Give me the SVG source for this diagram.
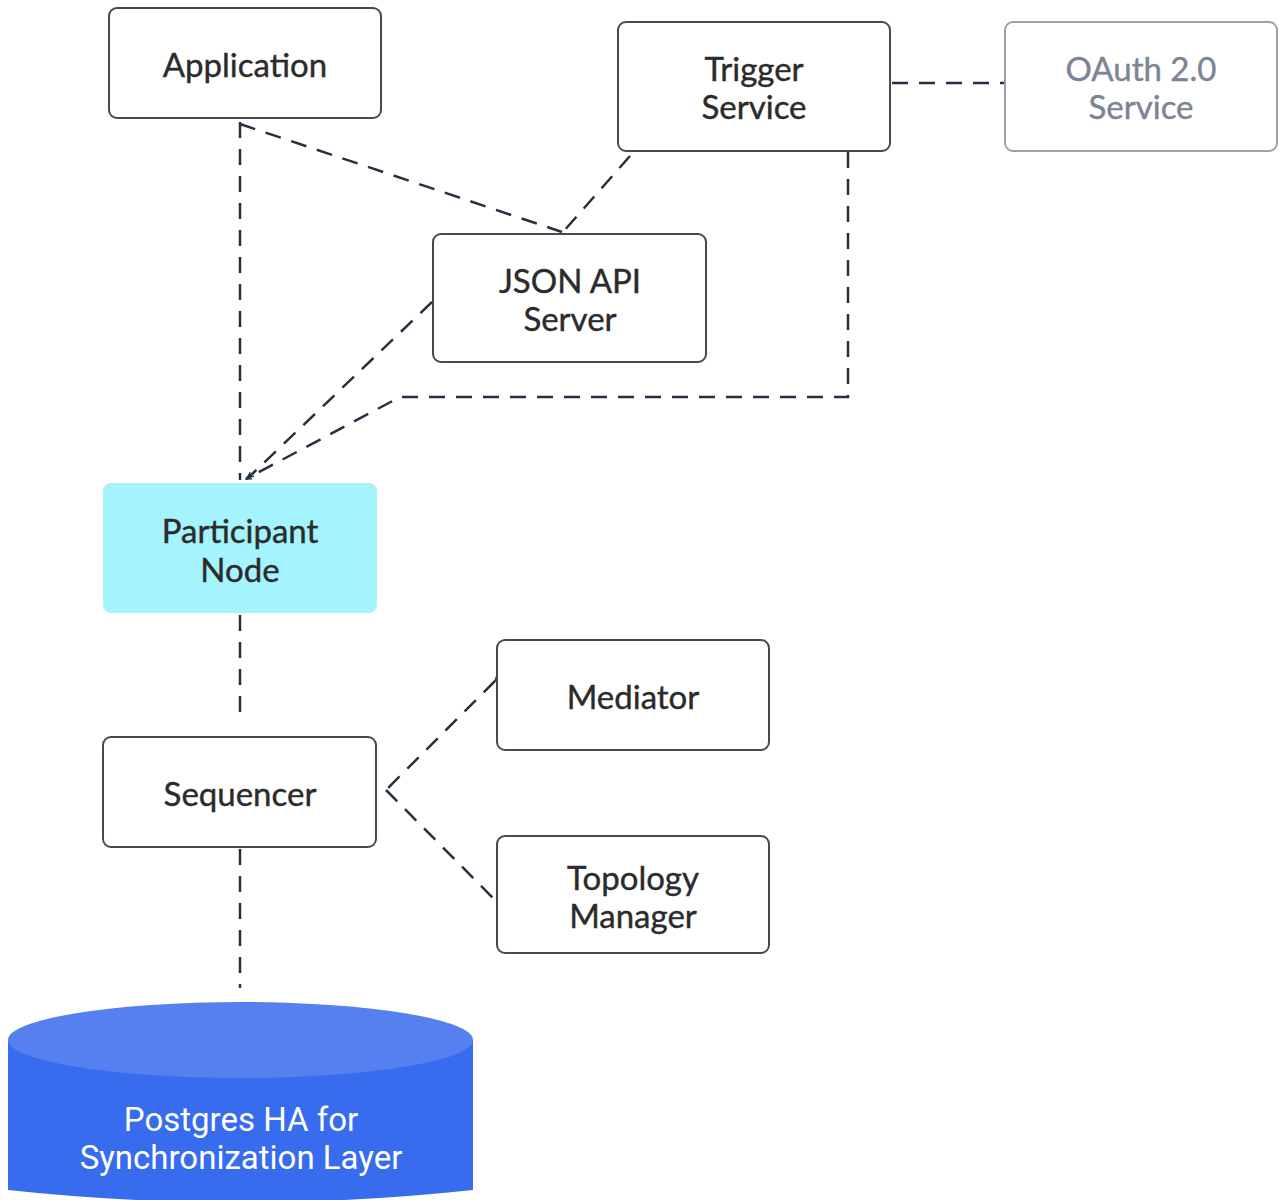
<svg xmlns="http://www.w3.org/2000/svg" width="1279" height="1200" viewBox="0 0 1279 1200">
<defs>
<style>
.box{fill:#fff;stroke:#4a4a4a;stroke-width:2}
.t{font-family:Lato,"Liberation Sans",sans-serif;font-size:33px;fill:#2b2b2b;text-anchor:middle;stroke:#2b2b2b;stroke-width:0.4}
.g{fill:#7d8494;stroke:#7d8494}
.c{fill:none;stroke:#253041;stroke-width:2.5;stroke-dasharray:16 11}
.db{font-family:Roboto,"Liberation Sans",sans-serif;font-size:33px;fill:#fff;text-anchor:middle}
</style>
<marker id="ch" viewBox="0 0 10 10" refX="9" refY="5" markerWidth="7" markerHeight="7" markerUnits="userSpaceOnUse" orient="auto">
<path d="M1,1 L9,5 L1,9" fill="none" stroke="#253041" stroke-width="2"/>
</marker>
</defs>
<rect width="1279" height="1200" fill="#fff"/>
<g id="connectors">
<path class="c" d="M240,122 V480"/>
<path class="c" d="M240,124 L562,232"/>
<path class="c" d="M630,156 L563,232"/>
<path class="c" d="M432,302 L248,478" marker-end="url(#ch)"/>
<path class="c" d="M848,152 V397 H400 L246,479" marker-end="url(#ch)"/>
<path class="c" d="M892,83 H1004"/>
<path class="c" d="M240,615 V722"/>
<path class="c" d="M495,681 L386,790" marker-start="url(#ch)"/>
<path class="c" d="M386,790 L495,900"/>
<path class="c" d="M240,849 V988"/>
</g>
<g id="application">
<rect class="box" x="109" y="8" width="272" height="110" rx="8"/>
<text class="t" x="245" y="77">Application</text>
</g>
<g id="trigger-service">
<rect class="box" x="618" y="22" width="272" height="129" rx="8"/>
<text class="t" x="754" y="81">Trigger</text>
<text class="t" x="754" y="119">Service</text>
</g>
<g id="oauth-service">
<rect class="box" x="1005" y="22" width="272" height="129" rx="8" style="stroke:#9aa0ad"/>
<text class="t g" x="1141" y="81">OAuth 2.0</text>
<text class="t g" x="1141" y="119">Service</text>
</g>
<g id="json-api-server">
<rect class="box" x="433" y="234" width="273" height="128" rx="8"/>
<text class="t" x="570" y="293">JSON API</text>
<text class="t" x="570" y="331">Server</text>
</g>
<g id="participant-node">
<rect x="103" y="483" width="274" height="130" rx="8" fill="#a5f3fc"/>
<text class="t" x="240" y="543">Participant</text>
<text class="t" x="240" y="582">Node</text>
</g>
<g id="mediator">
<rect class="box" x="497" y="640" width="272" height="110" rx="8"/>
<text class="t" x="633" y="709">Mediator</text>
</g>
<g id="sequencer">
<rect class="box" x="103" y="737" width="273" height="110" rx="8"/>
<text class="t" x="240" y="806">Sequencer</text>
</g>
<g id="topology-manager">
<rect class="box" x="497" y="836" width="272" height="117" rx="8"/>
<text class="t" x="633" y="890">Topology</text>
<text class="t" x="633" y="928">Manager</text>
</g>
<g id="postgres">
<path d="M8,1040 V1190 Q240,1215 473,1190 V1040 Z" fill="#366ced"/>
<ellipse cx="240.5" cy="1040" rx="232.5" ry="38" fill="#5680ef"/>
<text class="db" x="241" y="1131">Postgres HA for</text>
<text class="db" x="241" y="1169">Synchronization Layer</text>
</g>
</svg>
